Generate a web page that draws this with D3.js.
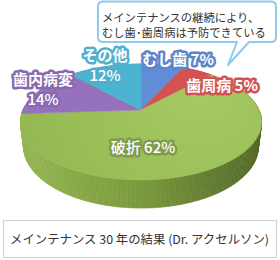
<!DOCTYPE html>
<html>
<head>
<meta charset="utf-8">
<script src="https://cdn.jsdelivr.net/npm/d3@7"></script>
<style>
	body{margin:0;background:#fff;}
	svg{display:block;font-family:"Noto Sans CJK JP","Noto Sans",sans-serif;}
</style>
</head>
<body>
<div id="chart"></div>
<script>

// data
const categories = ["むし歯","歯周病","破折","歯内病変","その他"];
const values = [7,5,62,14,12];
const topColors = ["#5f8ed6","#d45352","#9dc35b","#9672bd","#4cb4d1"];
const sideColors = ["#3f6aa8","#a63a3a","#6f8c36","#6c4f8f","#34849a"];
const haloColors = ["#5d86c8","#cf5454","#809c4c","#8a69b1","#4fb0cb"];
const calloutLines = ["メインテナンスの継続により、","むし歯･歯周病は予防できている"];
const caption = "メインテナンス 30 年の結果 (Dr. アクセルソン)";

// set up
const w = 280;
const h = 260;

// 3d projection of the disc
const cx = 141, cy = 110;
const tilt = Math.asin(0.47);
const sa = Math.sin(tilt), ca = Math.cos(tilt);
const dist = 4.28, focal = 505;
const thick = 0.24;

function proj(theta, r, z){
	const X = r*Math.sin(theta), Y = r*Math.cos(theta);
	const v = Y*sa + z*ca;
	const d = dist + Y*ca - z*sa;
	return [cx + focal*X/d, cy - focal*v/d];
}
function depth(theta){ return Math.cos(theta); }

const pie = d3.pie().sort(null).value(d=>d.v);
const arcs = pie(categories.map((c,i)=>({c, v:values[i], i})));

const svg = d3.select("#chart").append("svg")
	.attr("width", w)
	.attr("height", h);

const defs = svg.append("defs");
const sideGrad = defs.append("linearGradient")
	.attr("id","sideGreen")
	.attr("gradientUnits","userSpaceOnUse")
	.attr("x1",23).attr("x2",259).attr("y1",0).attr("y2",0);
sideGrad.append("stop").attr("offset",0).attr("stop-color","#93b450");
sideGrad.append("stop").attr("offset",0.5).attr("stop-color","#7a993c");
sideGrad.append("stop").attr("offset",1).attr("stop-color","#526626");

const topGrad = defs.append("radialGradient")
	.attr("id","topGreen")
	.attr("gradientUnits","userSpaceOnUse")
	.attr("cx",200).attr("cy",90).attr("r",190);
topGrad.append("stop").attr("offset",0).attr("stop-color","#a6ca61");
topGrad.append("stop").attr("offset",1).attr("stop-color","#93b853");

// wall pieces, back to front
const step = Math.PI/180;
const wall = [];
arcs.forEach(a=>{
	for(let t=a.startAngle; t<a.endAngle-1e-9; t+=step){
		const t1 = Math.min(t+step, a.endAngle);
		wall.push({t0:t, t1, i:a.data.i});
	}
});
wall.sort((p,q)=>depth((q.t0+q.t1)/2)-depth((p.t0+p.t1)/2));

const line = d3.line();
svg.append("g").selectAll("path")
	.data(wall)
	.join("path")
	.attr("d", d=>line([proj(d.t0,1,0),proj(d.t1,1,0),proj(d.t1,1,-thick),proj(d.t0,1,-thick)])+"Z")
	.attr("fill", d=>d.i===2 ? "url(#sideGreen)" : sideColors[d.i])
	.attr("stroke", d=>d.i===2 ? "url(#sideGreen)" : sideColors[d.i])
	.attr("stroke-width",0.6);

// top faces
function slicePath(a){
	const pts = [proj(0,0,0)];
	const n = Math.max(2, Math.ceil((a.endAngle-a.startAngle)/step));
	for(let k=0;k<=n;k++){
		const t = a.startAngle + (a.endAngle-a.startAngle)*k/n;
		pts.push(proj(t,1,0));
	}
	return line(pts)+"Z";
}
svg.append("g").selectAll("path")
	.data(arcs)
	.join("path")
	.attr("d", slicePath)
	.attr("fill", d=>d.data.i===2 ? "url(#topGreen)" : topColors[d.data.i])
	.attr("stroke", d=>d.data.i===2 ? "#9cc25a" : topColors[d.data.i])
	.attr("stroke-width",0.5);

// labels (layout only)
const labels = [
	{i:0, parts:[{t:"むし歯 7%", x:178, y:65, wt:700}]},
	{i:1, parts:[{t:"歯周病 5%", x:222, y:91, wt:700}]},
	{i:2, parts:[{t:"破折 62%", x:143, y:153, wt:500}]},
	{i:3, parts:[{t:"歯内病変", x:43, y:85, wt:700},{t:"14%", x:43, y:105, wt:500}]},
	{i:4, parts:[{t:"その他", x:105, y:61, wt:700},{t:"12%", x:105, y:81, wt:500}]}
];
const lab = svg.append("g");
labels.forEach(l=>{
	l.parts.forEach(p=>{
		lab.append("text")
			.attr("x",p.x).attr("y",p.y)
			.attr("text-anchor","middle")
			.attr("font-size",15)
			.attr("font-weight",p.wt)
			.attr("fill","#fff")
			.attr("stroke",haloColors[l.i])
			.attr("stroke-width",5)
			.attr("stroke-linejoin","round")
			.attr("paint-order","stroke")
			.text(p.t);
	});
});

// callout
const callout = svg.append("g");
callout.append("path")
	.attr("d","M103,1.5 H271 Q276,1.5 276,6.5 V37 Q276,42 271,42 H249 L228,65 L237,42 H103 Q98,42 98,37 V6.5 Q98,1.5 103,1.5 Z")
	.attr("fill","#fff")
	.attr("stroke","#8ec9ee")
	.attr("stroke-width",2)
	.attr("stroke-linejoin","round");
callout.selectAll("text")
	.data(calloutLines)
	.join("text")
	.attr("x",102)
	.attr("y",(d,i)=>21.5+i*15)
	.attr("font-size",11.3)
	.attr("fill","#333")
	.text(d=>d);

// caption box
svg.append("rect")
	.attr("x",3.5).attr("y",220.5)
	.attr("width",273).attr("height",37)
	.attr("fill","#fff")
	.attr("stroke","#cfcfcf")
	.attr("stroke-width",1);
svg.append("text")
	.attr("x",10).attr("y",244)
	.attr("font-size",12.4)
	.attr("fill","#333")
	.text(caption);

</script>
</body>
</html>
